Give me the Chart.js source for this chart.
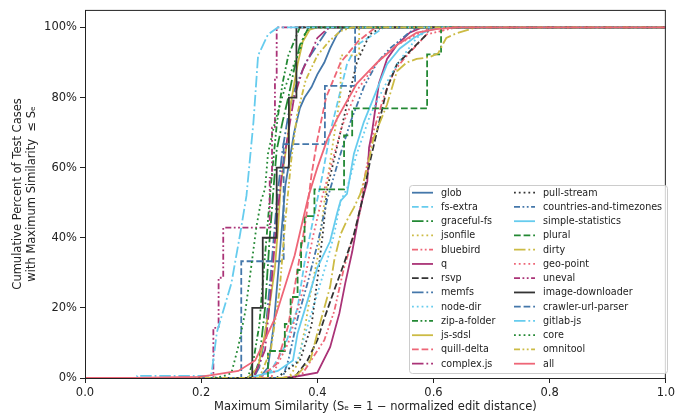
<!DOCTYPE html>
<html><head><meta charset="utf-8">
<script src="https://cdn.jsdelivr.net/npm/chart.js@4.4.0/dist/chart.umd.min.js"></script>
<style>html,body{margin:0;padding:0;background:#fff;}#wrap{width:678px;height:416px;position:relative;}</style>
</head><body><div id="wrap"><canvas id="c"></canvas></div>
<script>
const xTicks = [0, 0.2, 0.4, 0.6, 0.8, 1.0];
const yTicks = [0, 20, 40, 60, 80, 100];
const seriesNames = ['glob','fs-extra','graceful-fs','jsonfile','bluebird','q','rsvp','memfs','node-dir','zip-a-folder','js-sdsl','quill-delta','complex.js','pull-stream','countries-and-timezones','simple-statistics','plural','dirty','geo-point','uneval','image-downloader','crawler-url-parser','gitlab-js','core','omnitool','all'];

const glob = [[0,0],[0.30,0],[0.315,3],[0.325,15],[0.335,35],[0.345,55],[0.36,70],[0.37,77],[0.378,80],[0.39,83],[0.40,86.6],[0.412,90],[0.422,94],[0.434,98],[0.445,100],[1,100]];
const fsExtra = [[0,0],[0.30,0],[0.32,2],[0.344,9],[0.366,20],[0.378,33],[0.395,47],[0.409,58],[0.422,70],[0.434,78],[0.451,89.5],[0.468,95],[0.497,98],[0.514,100],[1,100]];
const gracefulFs = [[0,0],[0.29,0],[0.30,5],[0.31,20],[0.318,40],[0.325,55],[0.33,65],[0.34,73],[0.35,80],[0.36,88],[0.37,95],[0.385,100],[1,100]];
const jsonfile = [[0,0],[0.35,0],[0.366,4],[0.378,13.6],[0.388,24],[0.40,34],[0.409,46],[0.412,50],[0.425,65],[0.44,81],[0.44,92],[0.472,92],[0.472,100],[1,100]];
const bluebird = [[0,0],[0.36,0],[0.375,1.4],[0.412,10.8],[0.429,19],[0.446,31.5],[0.463,41],[0.474,47.7],[0.48,56],[0.497,70.5],[0.514,80],[0.532,87.5],[0.549,91],[0.588,98],[0.639,100],[1,100]];
const q = [[0,0],[0.34,0],[0.366,0.5],[0.40,1.5],[0.422,8.8],[0.438,18.5],[0.448,27],[0.46,36],[0.472,47],[0.477,50.5],[0.486,56],[0.489,65.7],[0.494,70],[0.506,84],[0.52,91],[0.537,95],[0.559,98.5],[0.58,100],[1,100]];
const rsvp = [[0,0],[0.36,0],[0.383,5],[0.40,10.8],[0.412,17],[0.429,25],[0.446,32.7],[0.463,41],[0.477,50.5],[0.48,53],[0.491,62],[0.503,70.5],[0.52,82.7],[0.537,89.5],[0.554,92.3],[0.576,96],[0.588,98],[0.593,100],[1,100]];
const memfs = [[0,0],[0.29,0],[0.30,3],[0.31,12],[0.32,30],[0.33,50],[0.34,65],[0.35,75],[0.36,82],[0.38,90],[0.40,95],[0.42,100],[1,100]];
const nodeDir = [[0,0],[0.33,0],[0.366,5],[0.378,12],[0.40,24],[0.417,33.5],[0.429,41],[0.44,50.5],[0.451,54],[0.468,64],[0.491,75],[0.514,82.7],[0.537,89.5],[0.571,97],[0.596,100],[1,100]];
const zipAFolder = [[0,0],[0.28,0],[0.29,5],[0.30,15],[0.31,35],[0.32,55],[0.33,72],[0.34,84],[0.35,92],[0.37,100],[1,100]];
const jsSdsl = [[0,0],[0.28,0],[0.298,3],[0.31,12.8],[0.319,22],[0.327,31.5],[0.332,42],[0.337,55],[0.349,68.5],[0.354,78],[0.366,89.5],[0.375,96],[0.387,99.4],[0.40,100],[1,100]];
const quillDelta = [[0,0],[0.30,0],[0.33,4],[0.35,15],[0.365,30],[0.38,45],[0.39,58],[0.40,68],[0.415,80],[0.44,90],[0.47,96],[0.50,100],[1,100]];
const complexJs = [[0,0],[0.29,0],[0.31,8],[0.32,25],[0.33,45],[0.34,60],[0.35,70],[0.36,80],[0.375,88],[0.39,93],[0.40,97],[0.42,100],[1,100]];
const pullStream = [[0,0],[0.33,0],[0.37,5],[0.39,15],[0.40,28],[0.41,42],[0.417,54],[0.434,66],[0.451,78],[0.468,90],[0.49,98],[0.51,100],[1,100]];
const countriesAndTimezones = [[0,0],[0.34,0],[0.35,5],[0.366,17],[0.383,27],[0.40,38],[0.417,51],[0.44,64],[0.457,73],[0.48,83],[0.503,90],[0.525,94],[0.554,98],[0.571,100],[1,100]];
const simpleStatistics = [[0,0],[0.28,0],[0.332,2],[0.358,5],[0.366,12.8],[0.383,22],[0.40,31.5],[0.422,39],[0.434,47],[0.44,50.5],[0.451,52.5],[0.463,64],[0.48,73],[0.497,80],[0.52,89.5],[0.542,94],[0.566,97],[0.588,99],[0.613,100],[1,100]];
const plural = [[0,0],[0.315,7.7],[0.344,15.4],[0.354,23.1],[0.366,30.8],[0.372,38.5],[0.378,46.2],[0.395,53.8],[0.446,69.2],[0.46,76.9],[0.589,92.3],[0.613,100],[1,100]];
const dirty = [[0,0],[0.34,0],[0.366,1],[0.388,5],[0.40,12.8],[0.412,20],[0.422,26],[0.429,33.5],[0.44,41],[0.451,45],[0.463,48.6],[0.474,52.5],[0.486,60],[0.497,68.5],[0.503,71],[0.52,78],[0.537,87.5],[0.554,90],[0.571,91],[0.593,91.5],[0.608,92.6],[0.617,95.5],[0.622,97],[0.639,98.3],[0.673,100],[1,100]];
const geoPoint = [[0,0],[0.32,0],[0.35,10],[0.375,25],[0.392,40],[0.409,52],[0.426,62],[0.443,72],[0.468,82],[0.503,90],[0.537,95],[0.571,98],[0.596,100],[1,100]];
const uneval = [[0,0],[0.221,14.3],[0.23,28.6],[0.238,42.9],[0.318,57.1],[0.322,71.4],[0.327,85.7],[0.33,100],[1,100]];
const imageDownloader = [[0,0],[0.288,20],[0.306,40],[0.33,60],[0.351,80],[0.364,100],[1,100]];
const crawlerUrlParser = [[0,0],[0.269,33.3],[0.342,66.7],[0.413,83.3],[0.465,100],[1,100]];
const gitlabJs = [[0,0],[0.09,0],[0.09,0.6],[0.215,0.6],[0.218,1.4],[0.227,13],[0.252,27],[0.267,41],[0.278,52],[0.29,73],[0.298,92],[0.315,98],[0.332,100],[1,100]];
const core = [[0,0],[0.22,0],[0.238,0.5],[0.252,1.4],[0.264,9],[0.276,19],[0.286,31.5],[0.295,43],[0.303,50.5],[0.31,54],[0.315,64],[0.327,73],[0.344,82.7],[0.361,90],[0.371,94],[0.378,98],[0.387,100],[1,100]];
const omnitool = [[0,0],[0.30,0],[0.32,8],[0.335,25],[0.345,45],[0.355,62],[0.365,75],[0.38,85],[0.40,92],[0.42,96],[0.44,99],[0.46,100],[1,100]];
const all = [[0,0],[0.085,0],[0.196,0.3],[0.218,0.8],[0.264,2],[0.293,5],[0.31,11],[0.327,17],[0.344,26],[0.361,35],[0.375,45],[0.385,52],[0.40,60],[0.417,68],[0.434,74],[0.451,79],[0.468,84],[0.503,90],[0.537,95],[0.571,98.5],[0.605,99.5],[0.639,100],[1,100]];

const seriesData = [glob,fsExtra,gracefulFs,jsonfile,bluebird,q,rsvp,memfs,nodeDir,zipAFolder,jsSdsl,quillDelta,complexJs,pullStream,countriesAndTimezones,simpleStatistics,plural,dirty,geoPoint,uneval,imageDownloader,crawlerUrlParser,gitlabJs,core,omnitool,all];
const steppedSeries = ['plural','uneval','image-downloader','crawler-url-parser'];

const palette = ['#4477AA','#66CCEE','#228833','#CCBB44','#EE6677','#AA3377','#333333'];
const LW = 1.8;
const dashPatterns = [[], [6.7,2.9], [11.5,2.9,1.8,2.9], [1.8,3], [6,2.5,1.8,2.5,1.8,2.5]];
const N = seriesNames.length;

const datasets = seriesNames.map((name, i) => ({
  label: name,
  data: seriesData[i].map(p => ({x: p[0], y: p[1]})),
  borderColor: palette[i % 7],
  backgroundColor: palette[i % 7],
  borderWidth: LW,
  borderDash: dashPatterns[i % 5],
  borderCapStyle: 'butt',
  pointRadius: 0,
  fill: false,
  tension: 0,
  stepped: steppedSeries.includes(name) ? 'before' : false,
  order: N - 1 - i
}));

const FONT = '"DejaVu Sans", sans-serif';

const frame = {
  id: 'frame',
  afterDatasetsDraw(chart) {
    const {ctx, chartArea: a} = chart;
    ctx.save();
    ctx.strokeStyle = '#222';
    ctx.lineWidth = 1;
    ctx.setLineDash([]);
    ctx.strokeRect(a.left + 0.5, a.top + 0.5, a.right - a.left - 1, a.bottom - a.top);
    ctx.restore();
  }
};

const insideLegend = {
  id: 'insideLegend',
  afterDraw(chart) {
    const ctx = chart.ctx;
    const bx = 409, by = 185, bw = 258, bh = 188;
    ctx.save();
    ctx.beginPath();
    ctx.roundRect(bx + 0.5, by + 0.5, bw, bh, 3);
    ctx.fillStyle = 'rgba(255,255,255,0.8)';
    ctx.fill();
    ctx.strokeStyle = '#cccccc';
    ctx.lineWidth = 1;
    ctx.stroke();
    ctx.font = '9.6px ' + FONT;
    ctx.textBaseline = 'middle';
    ctx.textAlign = 'left';
    chart.data.datasets.forEach((ds, i) => {
      const col = Math.floor(i / 13), row = i % 13;
      const y = 192.7 + row * 14.25;
      const hx = col ? 514 : 412;
      ctx.beginPath();
      ctx.setLineDash(ds.borderDash);
      ctx.lineCap = 'butt';
      ctx.strokeStyle = ds.borderColor;
      ctx.lineWidth = ds.borderWidth;
      ctx.moveTo(hx, y);
      ctx.lineTo(hx + 21, y);
      ctx.stroke();
      ctx.setLineDash([]);
      ctx.fillStyle = '#222';
      ctx.fillText(ds.label, hx + 29, y + 0.5);
    });
    ctx.restore();
  }
};

new Chart(document.getElementById('c'), {
  type: 'line',
  data: { datasets },
  plugins: [frame, insideLegend],
  options: {
    responsive: true,
    maintainAspectRatio: false,
    animation: false,
    events: [],
    layout: { padding: { left: 0, right: 6, top: 8, bottom: 0 } },
    plugins: { legend: { display: false }, tooltip: { enabled: false } },
    scales: {
      x: {
        type: 'linear', min: 0, max: 1,
        afterBuildTicks: s => { s.ticks = xTicks.map(v => ({value: v})); },
        afterFit: s => { s.height = 38; },
        ticks: { callback: v => Number(v).toFixed(1), color: '#222', font: { family: FONT, size: 11.5 }, padding: 3, maxRotation: 0 },
        grid: { display: true, drawOnChartArea: false, drawTicks: true, tickLength: 5, color: '#222', lineWidth: 1 },
        border: { display: false },
        title: { display: true, text: 'Maximum Similarity (Sₑ = 1 − normalized edit distance)', color: '#222', font: { family: FONT, size: 11.5 }, padding: { top: 0, bottom: 2 } }
      },
      y: {
        type: 'linear', min: 0, max: 105,
        afterBuildTicks: s => { s.ticks = yTicks.map(v => ({value: v})); },
        afterFit: s => { s.width = 85; },
        ticks: { callback: v => v + '%', color: '#222', font: { family: FONT, size: 11.5 }, padding: 3 },
        grid: { display: true, drawOnChartArea: false, drawTicks: true, tickLength: 5, color: '#222', lineWidth: 1 },
        border: { display: false },
        title: { display: true, text: ['Cumulative Percent of Test Cases', 'with Maximum Similarity  ≤ Sₑ'], color: '#222', font: { family: FONT, size: 11.5, lineHeight: 1.2 }, padding: { top: 11, bottom: 4 } }
      }
    }
  }
});
</script>
</body></html>
